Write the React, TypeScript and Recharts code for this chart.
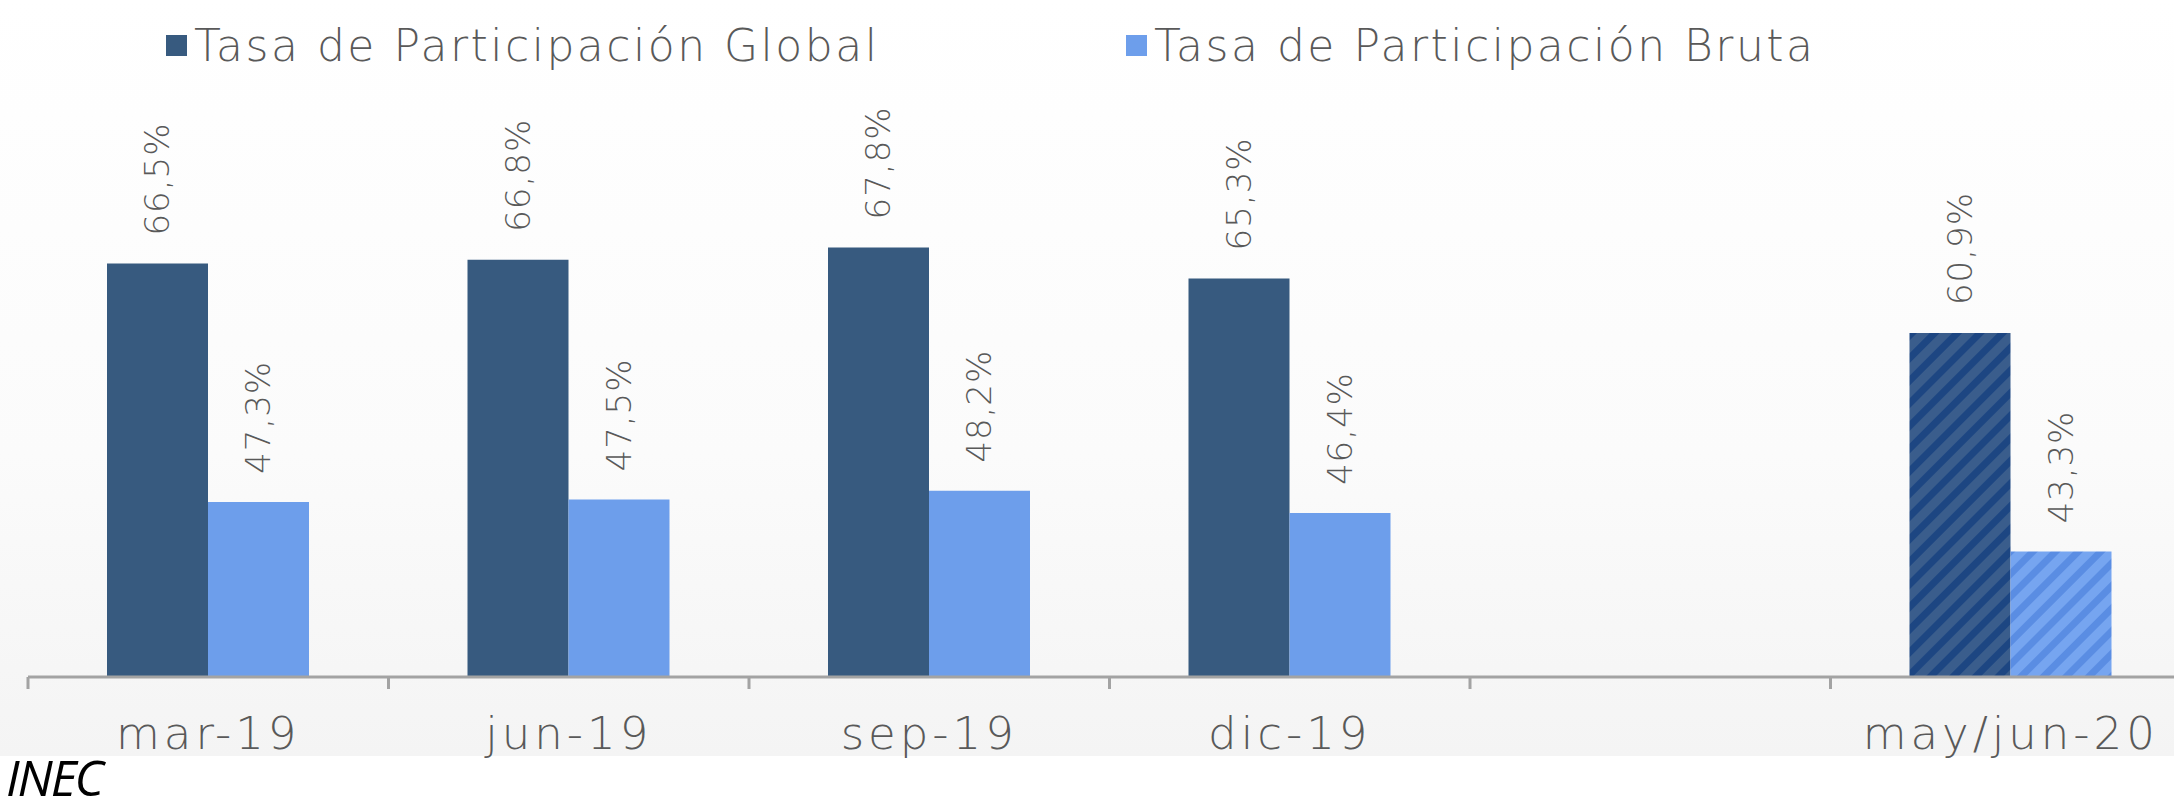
import { Bar, BarChart, Cell, LabelList, Legend, XAxis, YAxis } from "recharts";

const periods = ["mar-19", "jun-19", "sep-19", "dic-19", "", "may/jun-20"];
const globalRate = [66.5, 66.8, 67.8, 65.3, null, 60.9];
const grossRate = [47.3, 47.5, 48.2, 46.4, null, 43.3];
const hatched = [false, false, false, false, false, true];
const seriesNames = ["Tasa de Participación Global", "Tasa de Participación Bruta"];

const data = periods.map((period, i) => ({
  period,
  global: globalRate[i],
  gross: grossRate[i],
  hatched: hatched[i]
}));

const DARK = "#375a7f";
const LIGHT = "#6d9eeb";
const TEXT = "#595959";
const AXIS = "#a3a3a3";
const FONT = "'DejaVu Sans', sans-serif";

const fmt = (v: number) => v.toFixed(1).replace(".", ",") + "%";

function RotatedLabel(props: any) {
  const { x, y, width, value } = props;
  if (value == null) return null;
  const cx = Number(x) + Number(width) / 2;
  const top = Number(y) - 28;
  return (
    <text
      x={cx}
      y={top}
      transform={`rotate(-90 ${cx} ${top})`}
      textAnchor="start"
      dominantBaseline="central"
      fill={TEXT}
      fontSize={34}
      fontFamily={FONT}
      fontWeight={200}
      letterSpacing={1}
    >
      {fmt(value)}
    </text>
  );
}

// category label plus an Excel-style tick mark on the left edge of each band
function PeriodTick(props: any) {
  const { x, y, payload } = props;
  const half = payload && payload.offset > 0 ? payload.offset : 180.25;
  const axisY = y - 40;
  const bx = x - half;
  return (
    <g>
      <line x1={bx} y1={axisY} x2={bx} y2={axisY + 12} stroke={AXIS} strokeWidth={3} />
      <text
        x={x}
        y={y}
        dy="0.71em"
        textAnchor="middle"
        fill={TEXT}
        fontSize={45}
        fontFamily={FONT}
        fontWeight={200}
        letterSpacing={4}
      >
        {payload.value}
      </text>
    </g>
  );
}

const legendLeft = [166, 1126];

function LegendContent({ payload }: any) {
  const items = seriesNames.map((name) => {
    const found = (payload || []).find((p: any) => p.value === name);
    return { name, color: found ? found.color : DARK };
  });
  return (
    <div style={{ position: "relative", height: 66 }}>
      {items.map((entry, i) => (
        <div
          key={entry.name}
          style={{
            position: "absolute",
            left: legendLeft[i],
            top: 0,
            display: "flex",
            alignItems: "center",
            fontFamily: FONT,
            fontWeight: 200,
            fontSize: 44,
            letterSpacing: 2.5,
            color: TEXT,
            whiteSpace: "nowrap"
          }}
        >
          <span
            style={{
              display: "inline-block",
              width: 21,
              height: 21,
              background: entry.color,
              marginRight: 7
            }}
          />
          {entry.name}
        </div>
      ))}
    </div>
  );
}

export default function App() {
  return (
    <div
      style={{
        position: "absolute",
        left: 0,
        top: 0,
        width: 2174,
        height: 812,
        overflow: "hidden",
        background: "#ffffff"
      }}
    >
      <div
        style={{
          position: "absolute",
          left: 0,
          top: 0,
          width: 2174,
          height: 756,
          background: "linear-gradient(to bottom, #ffffff 0%, #fbfbfb 60%, #f4f4f4 100%)"
        }}
      />
      <div style={{ position: "absolute", left: 0, top: 0 }}>
        <BarChart
          width={2200}
          height={780}
          data={data}
          margin={{ top: 158, right: 9, left: 28, bottom: 0 }}
          barGap={0}
          barSize={101}
        >
          <defs>
            <pattern
              id="hatchDark"
              width="16"
              height="16"
              patternUnits="userSpaceOnUse"
              patternTransform="rotate(45)"
            >
              <rect width="16" height="16" fill="#3a5d8c" />
              <rect width="7" height="16" fill="#1d4682" />
            </pattern>
            <pattern
              id="hatchLight"
              width="16"
              height="16"
              patternUnits="userSpaceOnUse"
              patternTransform="rotate(45)"
            >
              <rect width="16" height="16" fill="#76a5f0" />
              <rect width="7" height="16" fill="#5a8de3" />
            </pattern>
          </defs>
          <XAxis
            dataKey="period"
            height={103}
            axisLine={{ stroke: AXIS, strokeWidth: 3 }}
            tickLine={false}
            tickSize={12}
            tickMargin={28}
            interval={0}
            tick={<PeriodTick />}
          />
          <YAxis hide domain={[33.2, 75]} allowDataOverflow />
          <Legend
            verticalAlign="middle"
            layout="horizontal"
            wrapperStyle={{ top: 20, left: 0, width: 2174, height: 66 }}
            content={<LegendContent />}
          />
          <Bar dataKey="global" name={seriesNames[0]} fill={DARK} isAnimationActive={false}>
            {data.map((d, i) => (
              <Cell key={i} fill={d.hatched ? "url(#hatchDark)" : DARK} />
            ))}
            <LabelList dataKey="global" content={<RotatedLabel />} />
          </Bar>
          <Bar dataKey="gross" name={seriesNames[1]} fill={LIGHT} isAnimationActive={false}>
            {data.map((d, i) => (
              <Cell key={i} fill={d.hatched ? "url(#hatchLight)" : LIGHT} />
            ))}
            <LabelList dataKey="gross" content={<RotatedLabel />} />
          </Bar>
        </BarChart>
      </div>
      <div
        style={{
          position: "absolute",
          left: 6,
          top: 752,
          lineHeight: 1,
          fontFamily: "'Open Sans', sans-serif",
          fontStyle: "italic",
          fontSize: 50,
          letterSpacing: -2,
          color: "#000000"
        }}
      >
        INEC
      </div>
    </div>
  );
}
